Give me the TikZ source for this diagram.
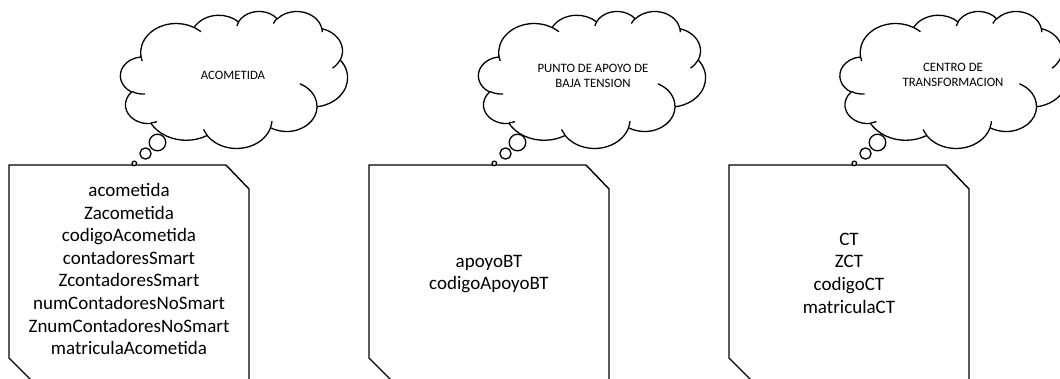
\documentclass[tikz,border=0pt]{standalone}
\usepackage{fontspec}
\setmainfont{Carlito}
\tikzset{
  outline/.style={draw=black, line width=1.4pt, line join=miter},
  cloudline/.style={draw=black, line width=1.3pt, line join=round},
  attrs/.style={align=center, inner sep=0pt, font=\fontsize{19}{22.6}\selectfont},
  cloudtext/.style={align=center, inner sep=0pt, font=\fontsize{12.8}{15.2}\selectfont},
}
% One arc of the cloud outline: x radius, y radius, start angle and sweep,
% the angles measured geometrically with y pointing down and turned into
% the ellipse parameter that TikZ expects.
\newcommand\cldarc[4]{arc[x radius=#1pt, y radius=#2pt,
  start angle={atan2(#1*sin(#3),#2*cos(#3))},
  delta angle={mod(atan2(#1*sin(#3+#4),#2*cos(#3+#4))-atan2(#1*sin(#3),#2*cos(#3))+720,360)}]}
% Thought cloud in a 4320 x 4320 frame, placed with its top left corner at (#1,#2)
\newcommand\thoughtcloud[2]{%
  \begin{scope}[shift={(#1,#2)}, xscale=0.052546, yscale=-0.031713]
    \path[cloudline, fill=white] (390pt,1437pt)
      \cldarc{675.3}{919.0}{-190.4875}{123.7805}
      \cldarc{533.3}{726.7}{-144.1024}{89.9452}
      \cldarc{436.5}{594.5}{-145.8079}{99.7230}
      \cldarc{485.7}{659.5}{-130.9861}{117.2417}
      \cldarc{533.3}{727.3}{-78.7089}{109.0269}
      \cldarc{677.5}{922.0}{-46.2673}{130.2690}
      \cldarc{578.5}{786.7}{0.6250}{114.0333}
      \cldarc{675.2}{921.5}{22.4516}{115.1726}
      \cldarc{772.0}{1054.3}{66.2426}{75.7110}
      \cldarc{436.0}{591.8}{-274.9421}{146.7356}
      \cldarc{434.5}{594.5}{-246.8285}{152.5189}
      -- cycle;
    % inner folds of the puffs
    \draw[cloudline]
      (469.3pt,2617.7pt) \cldarc{434.5}{594.5}{86.742}{26.430}
      (692.8pt,3489.9pt) \cldarc{436.0}{591.8}{73.610}{11.447}
      (1647.8pt,3909.0pt) \cldarc{675.2}{921.5}{137.624}{14.081}
      (2882.7pt,3475.1pt) \cldarc{675.2}{921.5}{6.453}{15.998}
      (3412.9pt,2295.4pt) \cldarc{578.5}{786.7}{-70.292}{70.917}
      (4179.8pt,1535.4pt) \cldarc{533.3}{727.3}{30.318}{27.752}
      (3832.4pt,542.6pt) \cldarc{485.7}{659.5}{-13.744}{14.859}
      (2907.8pt,395.2pt) \cldarc{485.7}{659.5}{-149.181}{18.195}
      (2214.1pt,472.0pt) \cldarc{436.5}{594.5}{-163.494}{17.686}
      (1400.0pt,519.2pt) \cldarc{675.3}{919.0}{-66.707}{12.319}
      (412.7pt,1578.9pt) \cldarc{675.3}{919.0}{157.654}{11.858};
  \end{scope}}
% Card with snipped top right and bottom left corners, left edge at #1
\newcommand\snipcard[1]{%
  \draw[outline] ({#1+40},398) -- (#1,358) -- (#1,165) -- ({#1+217},165)
    -- ({#1+240},189) -- ({#1+240},398);}
% The three bubbles leading from a card (left edge #1) up to its cloud
\newcommand\bubbles[2]{%
  \draw[cloudline, fill=white] ({#1+148.5},142.5) circle[radius=8.3pt];
  \draw[cloudline, fill=white] ({#1+136.5},153.5) circle[radius=5.6pt];
  \draw[cloudline, fill=white] ({#1+125.3},163.4) circle[radius=2.3pt];
  \coordinate (#2) at ({#1+125.3},165);}
\begin{document}
\begin{tikzpicture}[x=1pt, y=-1pt]
  \useasboundingbox (0,0) rectangle (1060,378);
  \clip (0,0) rectangle (1060,378);

  % Acometida
  \snipcard{9}
  \thoughtcloud{120.5}{11}
  \bubbles{9}{tail1}
  \node[cloudtext] (cloud1) at (233,75) {ACOMETIDA};
  \node[attrs] (card1) at (129,269) {acometida\\Zacometida\\codigoAcometida\\contadoresSmart\\ZcontadoresSmart\\numContadoresNoSmart\\ZnumContadoresNoSmart\\matriculaAcometida};

  % Punto de apoyo de baja tension
  \snipcard{369}
  \thoughtcloud{478.5}{11}
  \bubbles{369}{tail2}
  \node[cloudtext] (cloud2) at (593,75.5) {PUNTO DE APOYO DE\\BAJA TENSION};
  \node[attrs] (card2) at (489,274) {apoyoBT\\codigoApoyoBT};

  % Centro de transformacion
  \snipcard{729}
  \thoughtcloud{840}{11}
  \bubbles{729}{tail3}
  \node[cloudtext] (cloud3) at (953,74.5) {CENTRO DE\\TRANSFORMACION};
  \node[attrs] (card3) at (849,273) {CT\\ZCT\\codigoCT\\matriculaCT};
\end{tikzpicture}
\end{document}
